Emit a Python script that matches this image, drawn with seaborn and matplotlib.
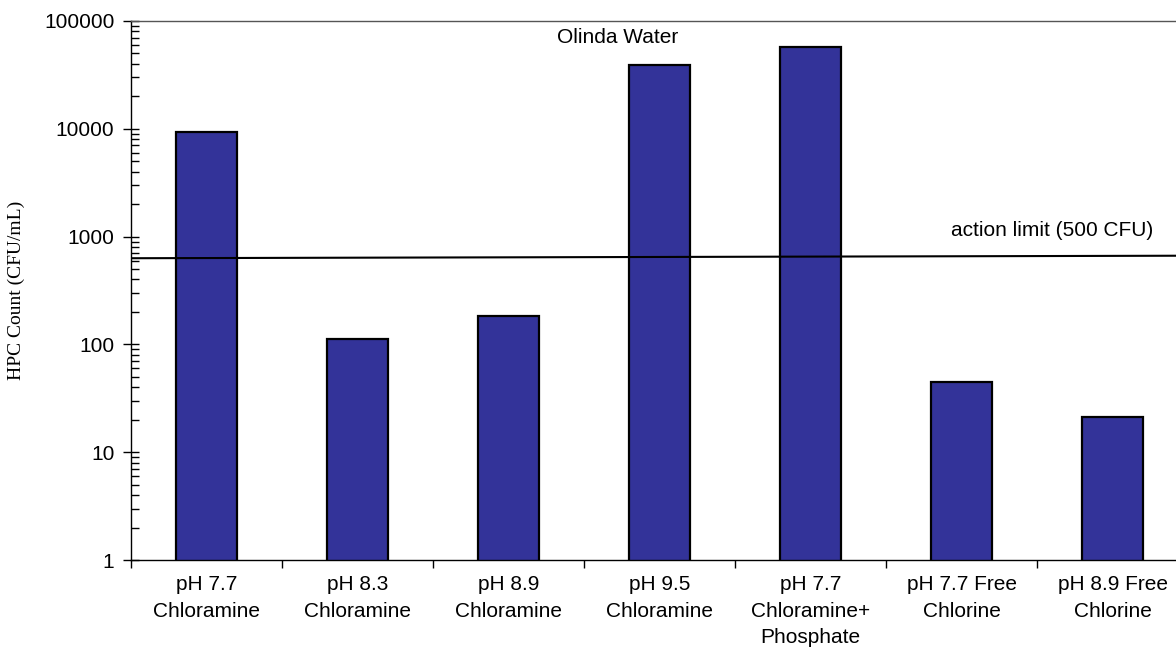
import numpy as np
import pandas as pd
import matplotlib
matplotlib.use("Agg")
import matplotlib.pyplot as plt
import seaborn as sns
from matplotlib.ticker import LogLocator, NullFormatter

# HPC counts
categories = [
    "pH 7.7\nChloramine",
    "pH 8.3\nChloramine",
    "pH 8.9\nChloramine",
    "pH 9.5\nChloramine",
    "pH 7.7\nChloramine+\nPhosphate",
    "pH 7.7 Free\nChlorine",
    "pH 8.9 Free\nChlorine",
]
hpc_counts = [9300, 112, 183, 39000, 57500, 45, 21]

# action limit line as drawn (slightly sloped in the original)
limit_values = [630, 665]
limit_label = "action limit (500 CFU)"

ytick_values = [1, 10, 100, 1000, 10000, 100000]
ytick_labels = ["1", "10", "100", "1000", "10000", "100000"]

df = pd.DataFrame({"Treatment": categories, "HPC": hpc_counts})

sns.set_style("white")
plt.rcParams["font.family"] = ["Liberation Sans", "DejaVu Sans"]
for key in ["text.color", "axes.labelcolor", "xtick.color", "ytick.color"]:
    plt.rcParams[key] = "black"

fig = plt.figure(figsize=(11.76, 6.52), dpi=100)
ax = fig.add_axes([131 / 1176, 92 / 652, 1057 / 1176, 539 / 652])

sns.barplot(data=df, x="Treatment", y="HPC", ax=ax, color="#333399",
            width=0.4, edgecolor="black", linewidth=1.6, saturation=1)
ax.set_yscale("log")
ax.set_ylim(1, 100000)
ax.set_xlim(-0.5, len(categories) - 0.5)

# action limit line
ax.plot([-0.5, len(categories) - 0.5], limit_values, color="black", lw=1.5)
ax.text(5.6, 1150, limit_label, fontsize=15, ha="center", va="center")
ax.text(2.72, 71000, "Olinda Water", fontsize=15, ha="center", va="center")

# y axis ticks
ax.set_yticks(ytick_values)
ax.set_yticklabels(ytick_labels, fontsize=15)
ax.yaxis.set_minor_locator(LogLocator(base=10, subs=np.arange(2, 10)))
ax.yaxis.set_minor_formatter(NullFormatter())
ax.tick_params(axis="y", which="major", direction="inout", length=12,
               width=1, left=True, pad=6)
ax.tick_params(axis="y", which="minor", direction="in", length=6,
               width=1, left=True)

# x axis: labels at centers, tick marks at boundaries
ax.set_xticks(range(len(categories)))
ax.set_xticklabels(categories, fontsize=15, linespacing=1.5)
ax.set_xticks(np.arange(-0.5, len(categories)), minor=True)
ax.tick_params(axis="x", which="major", length=0, pad=11)
ax.tick_params(axis="x", which="minor", direction="out", length=6,
               width=1, bottom=True)

ax.set_xlabel("")
ax.set_ylabel("HPC Count (CFU/mL)", family=["Liberation Serif"],
              fontsize=14, labelpad=14)

for side in ["left", "bottom"]:
    ax.spines[side].set_color("black")
    ax.spines[side].set_linewidth(1)
ax.spines["top"].set_color("#555555")
ax.spines["top"].set_linewidth(1)
ax.spines["right"].set_visible(False)

fig.savefig("out.png", dpi=100)
